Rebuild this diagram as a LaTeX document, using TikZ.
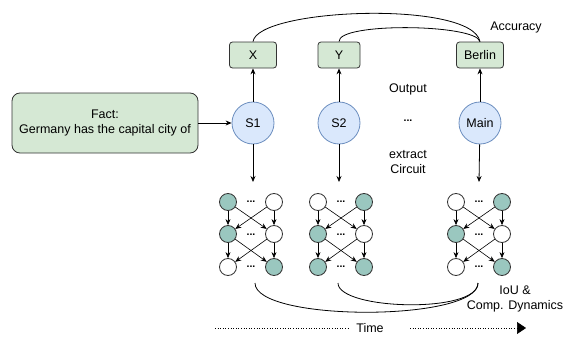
\documentclass[tikz,border=0pt]{standalone}
\usepackage{fontspec}
\setmainfont{Liberation Sans}
\usetikzlibrary{arrows.meta}

\definecolor{factfill}{HTML}{D5E8D4}
\definecolor{stepfill}{HTML}{DAE8FC}
\definecolor{stepline}{HTML}{6C8EBF}
\definecolor{neuron}{HTML}{9AC7BF}

\tikzset{
	label12/.style={font=\fontsize{12.5}{14.5}\selectfont},
	outbox/.style={label12, draw=black!80, fill=factfill, rounded corners=3pt, minimum height=26pt, inner sep=0pt},
	model/.style={label12, circle, draw=stepline, fill=stepfill, minimum size=42pt, inner sep=0pt},
	unit/.style={circle, draw=black!80, minimum size=17pt, inner sep=0pt},
	flow/.style={-{Stealth[length=6pt,width=5pt]}},
	dotsmall/.style={font=\fontsize{10.5}{10.5}\selectfont\bfseries, inner sep=0pt},
}

\begin{document}
\begin{tikzpicture}[x=1pt, y=-1pt, line width=0.8pt]
	\useasboundingbox (0,0) rectangle (566,340);
	% fact and model steps
	\node[label12, draw=black!80, fill=factfill, rounded corners=8pt, minimum width=186pt, minimum height=60pt, align=center] (fact) at (105,123) {Fact:\\Germany has the capital city of};
	\node[model] (s1) at (253,123) {S1};
	\node[model] (s2) at (339,123) {S2};
	\node[model] (main) at (480,123) {Main};
	% outputs
	\node[outbox, minimum width=47pt] (xout) at (253,55) {X};
	\node[outbox, minimum width=42pt] (yout) at (339,55) {Y};
	\node[outbox, minimum width=47pt] (berlin) at (480,55) {Berlin};
	% free texts
	\node[label12] (acc) at (516,27) {Accuracy};
	\node[label12] (output) at (408,89) {Output};
	\node[dotsmall] (between) at (408,121) {...};
	\node[label12, align=center] (extract) at (408,162) {extract\\ Circuit};
	\node[label12, align=center] (iou) at (515,299) {IoU \&\\Comp. Dynamics};
	% edges
	\draw[flow] (fact) -- (s1);
	\draw[flow] (s1) -- (xout);
	\draw[flow] (s2) -- (yout);
	\draw[flow] (main) -- (berlin);
	\draw (xout.north) .. controls (258,8) and (472,0) .. (berlin.north);
	\draw (yout.north) .. controls (338,22) and (476,24) .. (berlin.north);
	% circuits: x of left column / fills row by row
	\coordinate (top1) at (253,182);
	\coordinate (top2) at (339,182);
	\coordinate (top3) at (479,182);
	\draw[flow] (s1) -- (top1);
	\draw[flow] (s2) -- (top2);
	\draw[flow] (main) -- (top3);
	\foreach \x/\fa/\fb/\fc/\fd/\fe/\ff [count=\n] in
		{228/neuron/white/neuron/white/white/neuron,
		 318/white/neuron/neuron/white/neuron/neuron,
		 456/white/neuron/neuron/white/white/neuron}
	{
		\node[unit, fill=\fa] (u\n-1-1) at (\x,202) {};
		\node[unit, fill=\fb] (u\n-1-2) at (\x+46,202) {};
		\node[unit, fill=\fc] (u\n-2-1) at (\x,234) {};
		\node[unit, fill=\fd] (u\n-2-2) at (\x+46,234) {};
		\node[unit, fill=\fe] (u\n-3-1) at (\x,267) {};
		\node[unit, fill=\ff] (u\n-3-2) at (\x+46,267) {};
		\foreach \r in {1,2,3}
		{
			\node[dotsmall] (d\n-\r) at (\x+23,{202+(\r-1)*32.5}) {...};
		}
	}
	\foreach \n in {1,2,3}
	{
		\foreach \r/\s in {1/2,2/3}
		{
			\draw[flow, line width=0.6pt] (u\n-\r-1) -- (u\n-\s-1);
			\draw[flow, line width=0.6pt] (u\n-\r-2) -- (u\n-\s-2);
			\draw[flow, line width=0.6pt] (u\n-\r-1) -- (u\n-\s-2);
			\draw[flow, line width=0.6pt] (u\n-\r-2) -- (u\n-\s-1);
		}
	}
	% comparison curves
	\coordinate (bot1) at (255,283);
	\coordinate (bot2) at (338,283);
	\coordinate (bot3) at (478,283);
	\draw (bot1) .. controls (255,322) and (478,322) .. (bot3);
	\draw (bot2) .. controls (338,310) and (478,314) .. (bot3);
	% time axis
	\node[label12] (time) at (370,328) {Time};
	\coordinate (t0) at (215,328);
	\coordinate (t1) at (348,328);
	\coordinate (t2) at (410,328);
	\coordinate (t3) at (526,328);
	\draw[dotted, line width=0.6pt] (t0) -- (t1);
	\draw[dotted, line width=0.6pt, -{Triangle[length=9pt,width=12pt]}] (t2) -- (t3);
\end{tikzpicture}
\end{document}
